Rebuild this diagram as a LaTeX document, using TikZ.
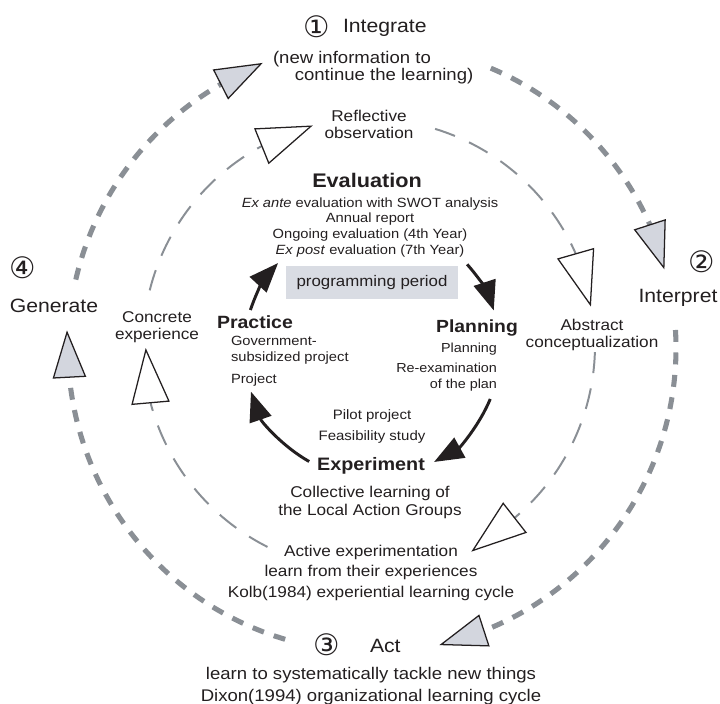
\documentclass[tikz,border=0pt]{standalone}
\usepackage{fontspec}
\setmainfont[FakeStretch=1.1]{Liberation Sans}
\newfontfamily\circfont{DejaVu Sans}
\usetikzlibrary{arrows.meta,calc}

\definecolor{ink}{HTML}{231F20}
\definecolor{dashgray}{HTML}{8A8F95}
\definecolor{tipfill}{HTML}{D3D6DE}
\definecolor{periodfill}{HTML}{D9DCE3}

\newcommand\fs[2]{\fontsize{#1}{#2}\selectfont}

% open triangular arrowhead sitting on a ring:
% #1 style, #2 ring centre, #3 angle, #4 radius, #5 direction, #6 half width, #7 length
\newcommand\ringhead[7]{%
  \coordinate (hb) at ($(#2)+(#3:#4)$);
  \draw[#1] ($(hb)+({#5+90}:#6)$) -- ($(hb)+(#5:#7)$) -- ($(hb)+({#5-90}:#6)$) -- cycle;}

\begin{document}
\begin{tikzpicture}[x=0.025cm,y=-0.025cm,
  every node/.style={inner sep=0pt, outer sep=0pt, text=ink},
  outerring/.style={draw=dashgray, line width=3.6pt, dash pattern=on 8.5pt off 7.5pt},
  innerring/.style={draw=dashgray, line width=1.4pt, dash pattern=on 15pt off 11pt},
  outerhead/.style={draw=ink, fill=tipfill, line width=0.9pt, line join=miter},
  innerhead/.style={draw=ink, fill=white, line width=0.9pt, line join=miter},
  cyclearrow/.style={draw=ink, line width=2.1pt, -{Triangle[length=21pt,width=16pt]}},
  circlbl/.style={font=\circfont\fs{21}{21}},
  biglbl/.style={font=\fs{13.7}{13.7}},
  ringlbl/.style={anchor=base, align=center, font=\fs{11.1}{11.5}},
  period/.style={fill=periodfill, minimum width=4.3cm, minimum height=0.83cm, font=\fs{10.9}{10.9}}]

\useasboundingbox (0,0) rectangle (720,703);

\coordinate (Oc) at (372,348);  % organisational cycle
\coordinate (Kc) at (369,345);  % experiential cycle
\coordinate (Pc) at (372,350);  % programming cycle

% outer ring: Dixon's organisational learning cycle
\draw[outerring] ($(Oc)+(193:304)$) arc[start angle=193, end angle=240.2, radius=304];
\draw[outerring] ($(Oc)+(293:304)$) arc[start angle=293, end angle=336.1, radius=304];
\draw[outerring] ($(Oc)+(-3.4:304)$) arc[start angle=-3.4, end angle=68.4, radius=304];
\draw[outerring] ($(Oc)+(106.6:304)$) arc[start angle=106.6, end angle=174.5, radius=304];
\ringhead{outerhead}{Oc}{240.2}{304}{333}{16}{45}
\ringhead{outerhead}{Oc}{336.1}{304}{72}{16}{45}
\ringhead{outerhead}{Oc}{68.4}{304}{162}{16}{45}
\ringhead{outerhead}{Oc}{174.5}{304}{267}{16}{45}

% inner ring: Kolb's experiential learning cycle
\draw[innerring] ($(Kc)+(194:226)$) arc[start angle=194, end angle=241.7, radius=226];
\draw[innerring] ($(Kc)+(287:226)$) arc[start angle=287, end angle=336.2, radius=226];
\draw[innerring] ($(Kc)+(1.8:226)$) arc[start angle=1.8, end angle=49.9, radius=226];
\draw[innerring] ($(Kc)+(116.7:226)$) arc[start angle=116.7, end angle=165.2, radius=226];
\ringhead{innerhead}{Kc}{241.7}{226}{338}{18.5}{53}
\ringhead{innerhead}{Kc}{336.2}{226}{74}{18.5}{53}
\ringhead{innerhead}{Kc}{49.9}{226}{142}{18.5}{53}
\ringhead{innerhead}{Kc}{165.2}{226}{265}{18.5}{53}

% programming period cycle
\draw[cyclearrow] ($(Pc)+(318:128)$) arc[start angle=318, end angle=342, radius=128];
\draw[cyclearrow] ($(Pc)+(22.5:128)$) arc[start angle=22.5, end angle=61, radius=128];
\draw[cyclearrow] ($(Pc)+(119.4:128)$) arc[start angle=119.4, end angle=161, radius=128];
\draw[cyclearrow] ($(Pc)+(198.2:128)$) arc[start angle=198.2, end angle=222.8, radius=128];

% outer ring labels (multi-line nodes sit on the baseline of their last line)
\node[circlbl] (n1) at (317,27) {①};
\node[biglbl, anchor=base west] (integrate) at (343,33) {Integrate};
\node[anchor=base west, align=left, font=\fs{12}{12}] (newinfo) at (273,80)
  {(new information to\\\hspace*{15.5pt}continue the learning)};
\node[circlbl] (n2) at (702,262) {②};
\node[biglbl, anchor=base] (interpret) at (678,302) {Interpret};
\node[circlbl] (n3) at (327,645) {③};
\node[biglbl, anchor=base west] (act) at (370,652) {Act};
\node[anchor=base, align=center, font=\fs{12}{15.6}] (dixon) at (371,701)
  {learn to systematically tackle new things\\Dixon(1994) organizational learning cycle};
\node[circlbl] (n4) at (23,268) {④};
\node[biglbl, anchor=base] (generate) at (54,312) {Generate};

% inner ring labels
\node[ringlbl] (reflective) at (369,138) {Reflective\\observation};
\node[ringlbl] (abstract) at (592,347) {Abstract\\conceptualization};
\node[ringlbl] (concrete) at (157,339) {Concrete\\experience};
\node[anchor=base, align=center, font=\fs{11.1}{14.5}] (active) at (371,597)
  {Active experimentation\\learn from their experiences\\Kolb(1984) experiential learning cycle};

% programming period cycle labels
\node[anchor=base, font=\bfseries\fs{14}{14}] (evaluation) at (367,187) {Evaluation};
\node[anchor=base, align=center, font=\fs{9.5}{11.1}] (evalitems) at (370,254)
  {\textit{Ex ante} evaluation with SWOT analysis\\Annual report\\Ongoing evaluation (4th Year)\\\textit{Ex post} evaluation (7th Year)};
\node[period] (period) at (372,282.5) {programming period};
\node[anchor=base west, font=\bfseries\fs{12.6}{12.6}] (practice) at (217,328) {Practice};
\node[anchor=base west, align=left, font=\fs{9.5}{11.3}] (practiceitems) at (231,361)
  {Government-\\subsidized project};
\node[anchor=base west, font=\fs{9.5}{11.3}] (project) at (231,383) {Project};
\node[anchor=base, font=\bfseries\fs{12.5}{12.5}] (planning) at (477,332) {Planning};
\node[anchor=base east, font=\fs{9.3}{11.3}] (planitem) at (497,352) {Planning};
\node[anchor=base east, align=right, font=\fs{9.3}{11.3}] (reexam) at (497,388)
  {Re-examination\\of the plan};
\node[anchor=base, align=center, font=\fs{9.7}{14.9}] (pilot) at (372,440)
  {Pilot project\\Feasibility study};
\node[anchor=base, font=\bfseries\fs{12.8}{12.8}] (experiment) at (371,470) {Experiment};
\node[anchor=base, align=center, font=\fs{11.1}{12.8}] (collective) at (370,515)
  {Collective learning of\\the Local Action Groups};
\end{tikzpicture}
\end{document}
